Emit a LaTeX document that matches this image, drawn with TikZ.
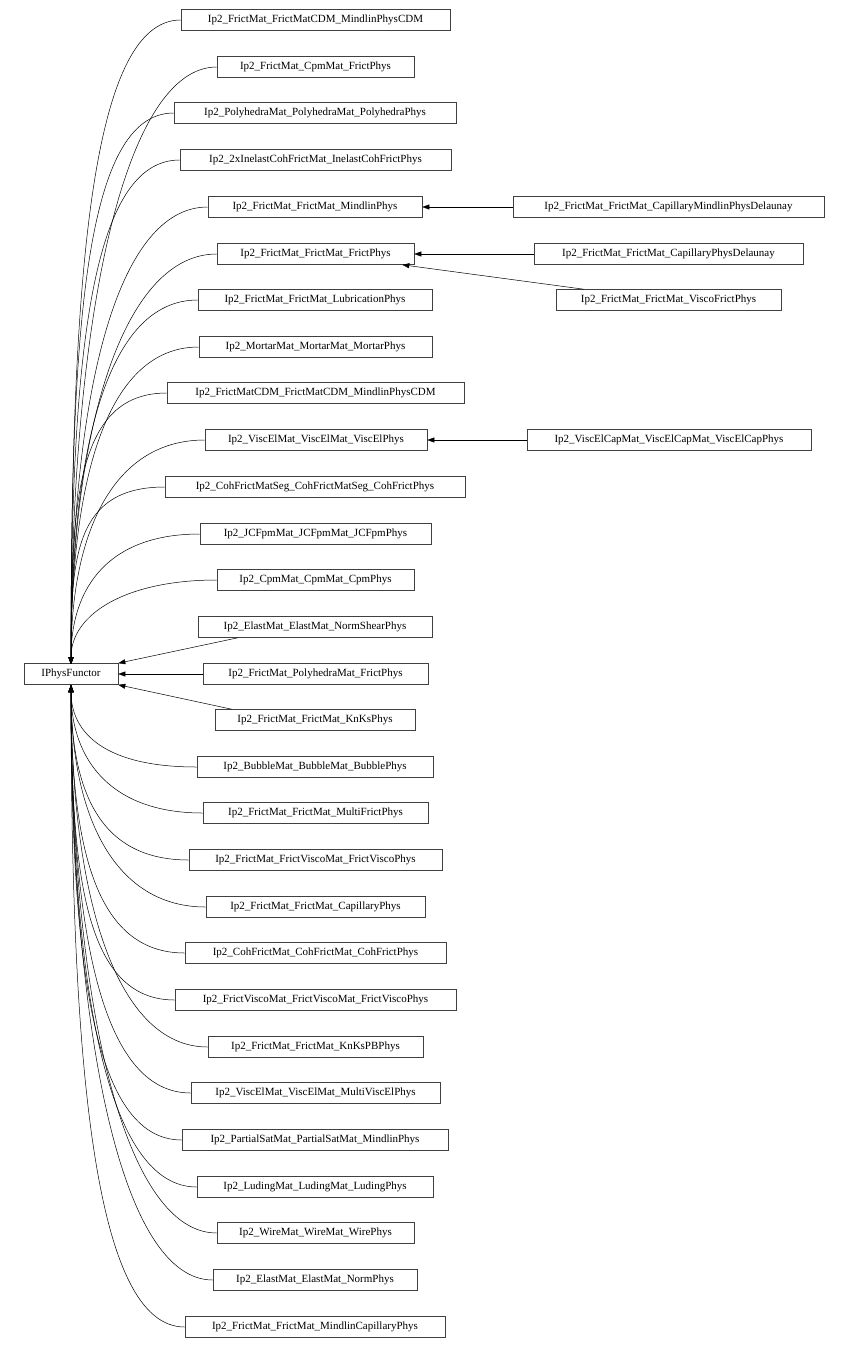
\documentclass[tikz,border=0pt]{standalone}
\usepackage{fontspec}
\setmainfont{Liberation Serif}
\usetikzlibrary{arrows.meta}
\begin{document}
\begin{tikzpicture}[x=1pt,y=-1pt,
  box/.style={draw=black!75,line width=0.6pt,rectangle,minimum height=21pt,inner sep=0pt,font=\fontsize{11}{13}\selectfont},
  inh/.style={-{Triangle[width=5pt,length=7pt]},line width=0.5pt}]
\useasboundingbox (0,0) rectangle (849,1350);
\newcommand{\bx}[5]{\node[box,minimum width={#3-#2}] (#1) at ({(#2+#3)/2},#4) {#5};}
\bx{P}{24}{118}{674}{IPhysFunctor}
\bx{c1}{181}{450}{20}{Ip2\_FrictMat\_FrictMatCDM\_MindlinPhysCDM}
\bx{c2}{217}{414}{67}{Ip2\_FrictMat\_CpmMat\_FrictPhys}
\bx{c3}{174}{456}{113}{Ip2\_PolyhedraMat\_PolyhedraMat\_PolyhedraPhys}
\bx{c4}{180}{451}{160}{Ip2\_2xInelastCohFrictMat\_InelastCohFrictPhys}
\bx{c5}{208}{422}{207}{Ip2\_FrictMat\_FrictMat\_MindlinPhys}
\bx{c6}{217}{414}{254}{Ip2\_FrictMat\_FrictMat\_FrictPhys}
\bx{c7}{198}{432}{300}{Ip2\_FrictMat\_FrictMat\_LubricationPhys}
\bx{c8}{199}{432}{347}{Ip2\_MortarMat\_MortarMat\_MortarPhys}
\bx{c9}{167}{464}{393}{Ip2\_FrictMatCDM\_FrictMatCDM\_MindlinPhysCDM}
\bx{c10}{205}{427}{440}{Ip2\_ViscElMat\_ViscElMat\_ViscElPhys}
\bx{c11}{165}{465}{487}{Ip2\_CohFrictMatSeg\_CohFrictMatSeg\_CohFrictPhys}
\bx{c12}{200}{431}{534}{Ip2\_JCFpmMat\_JCFpmMat\_JCFpmPhys}
\bx{c13}{217}{414}{580}{Ip2\_CpmMat\_CpmMat\_CpmPhys}
\bx{c14}{198}{432}{627}{Ip2\_ElastMat\_ElastMat\_NormShearPhys}
\bx{c15}{203}{428}{674}{Ip2\_FrictMat\_PolyhedraMat\_FrictPhys}
\bx{c16}{215}{415}{720}{Ip2\_FrictMat\_FrictMat\_KnKsPhys}
\bx{c17}{197}{433}{767}{Ip2\_BubbleMat\_BubbleMat\_BubblePhys}
\bx{c18}{203}{428}{813}{Ip2\_FrictMat\_FrictMat\_MultiFrictPhys}
\bx{c19}{189}{442}{860}{Ip2\_FrictMat\_FrictViscoMat\_FrictViscoPhys}
\bx{c20}{206}{425}{907}{Ip2\_FrictMat\_FrictMat\_CapillaryPhys}
\bx{c21}{185}{446}{953}{Ip2\_CohFrictMat\_CohFrictMat\_CohFrictPhys}
\bx{c22}{175}{456}{1000}{Ip2\_FrictViscoMat\_FrictViscoMat\_FrictViscoPhys}
\bx{c23}{208}{423}{1047}{Ip2\_FrictMat\_FrictMat\_KnKsPBPhys}
\bx{c24}{191}{440}{1093}{Ip2\_ViscElMat\_ViscElMat\_MultiViscElPhys}
\bx{c25}{182}{448}{1140}{Ip2\_PartialSatMat\_PartialSatMat\_MindlinPhys}
\bx{c26}{197}{433}{1187}{Ip2\_LudingMat\_LudingMat\_LudingPhys}
\bx{c27}{217}{414}{1233}{Ip2\_WireMat\_WireMat\_WirePhys}
\bx{c28}{213}{417}{1280}{Ip2\_ElastMat\_ElastMat\_NormPhys}
\bx{c29}{185}{445}{1327}{Ip2\_FrictMat\_FrictMat\_MindlinCapillaryPhys}
\bx{r1}{513}{824}{207}{Ip2\_FrictMat\_FrictMat\_CapillaryMindlinPhysDelaunay}
\bx{r2}{534}{803}{254}{Ip2\_FrictMat\_FrictMat\_CapillaryPhysDelaunay}
\bx{r3}{556}{781}{300}{Ip2\_FrictMat\_FrictMat\_ViscoFrictPhys}
\bx{r4}{527}{811}{440}{Ip2\_ViscElCapMat\_ViscElCapMat\_ViscElCapPhys}
\coordinate (pt) at (71,664);
\coordinate (pb) at (71,685);
\foreach \i/\yy in {1/20,2/67,3/113,4/160,5/207,6/254,7/300,8/347,9/393,10/440,11/487,12/534,13/580}
  \draw[inh] (c\i.west) .. controls +(-90,0) and +(0,{-(664-\yy)*0.6}) .. (pt);
\foreach \i/\yy in {17/767,18/813,19/860,20/907,21/953,22/1000,23/1047,24/1093,25/1140,26/1187,27/1233,28/1280,29/1327}
  \draw[inh] (c\i.west) .. controls +(-90,0) and +(0,{(\yy-685)*0.6}) .. (pb);
\draw[inh] (c14.south west) ++(40,0) -- (P.north east);
\draw[inh] (c15.west) -- (P.east);
\draw[inh] (c16.north west) ++(17,0) -- (P.south east);
\draw[inh] (r1.west) -- (c5.east);
\draw[inh] (r2.west) -- (c6.east);
\draw[inh] (r3.north west) ++(28,0) -- ([xshift=-12pt]c6.south east);
\draw[inh] (r4.west) -- (c10.east);
\end{tikzpicture}
\end{document}
